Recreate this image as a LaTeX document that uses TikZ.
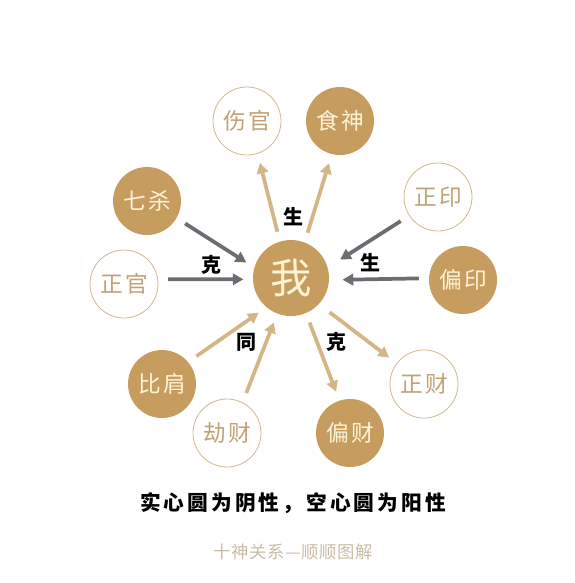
\documentclass[tikz,border=0pt]{standalone}
\usepackage{fontspec}
\setmainfont{Noto Sans CJK SC}
\usepackage{tikz}
\usetikzlibrary{arrows.meta}
\definecolor{sgold}{RGB}{198,157,95}
\definecolor{sgoldline}{RGB}{208,184,140}
\definecolor{sgoldarrow}{RGB}{212,182,134}
\definecolor{sgray}{RGB}{108,108,114}
\definecolor{scream}{RGB}{255,243,214}
\definecolor{stan}{RGB}{192,162,116}
\definecolor{sfoot}{RGB}{202,188,164}

\begin{document}
\begin{tikzpicture}[x=0.75pt, y=-0.75pt,
  every node/.style={font=\fontsize{17}{17}\selectfont\addfontfeature{LetterSpace=10}},
  yin/.style={circle, fill=sgold, text=scream, minimum size=51pt, inner sep=0pt},
  yang/.style={circle, draw=sgoldline, line width=0.6pt, fill=white, text=stan,
               minimum size=51pt, inner sep=0pt},
  garrow/.style={-{Triangle[length=8pt,width=8.5pt]}, line width=2.8pt, sgoldarrow,
                 shorten <=7.5pt, shorten >=7pt},
  karrow/.style={garrow, sgray},
  rel/.style={font=\bfseries\fontsize{15}{15}\selectfont, text=black}]
  \useasboundingbox (0,0) rectangle (575,583);

  % Centre: me
  \node[yin, minimum size=57pt, font=\fontsize{31}{31}\selectfont] (wo) at (291,278) {我};

  % Output: 生 (top)
  \node[yang] (shangguan) at (247,121) {伤官};
  \node[yin] (shishen) at (340,121) {食神};
  % Officers: 克 me (left)
  \node[yin] (qisha) at (147,201) {七杀};
  \node[yang] (zhengguan) at (124,284) {正官};
  % Resources: 生 me (right)
  \node[yang] (zhengyin) at (438,197) {正印};
  \node[yin] (pianyin) at (463,280) {偏印};
  % Peers: 同 (lower left)
  \node[yin] (bijian) at (162,384) {比肩};
  \node[yang] (jiecai) at (227,433) {劫财};
  % Wealth: I 克 (lower right)
  \node[yin] (piancai) at (350,433) {偏财};
  \node[yang] (zhengcai) at (424,384) {正财};

  % Arrows out of me
  \draw[garrow] (wo.107) -- (shangguan.-72);
  \draw[garrow] (wo.69) -- (shishen.-104);
  \draw[garrow] (wo.-67) -- (piancai.108);
  \draw[garrow, shorten <=10pt] (wo.-43) -- (zhengcai.143);
  % Arrows into me
  \draw[karrow] (qisha.-30) -- (wo.164);
  \draw[karrow] (zhengguan.8) -- (wo.182);
  \draw[karrow, shorten >=11pt] (zhengyin.-147) -- (wo.16);
  \draw[karrow, shorten >=10pt] (pianyin.177) -- (wo.-3);
  \draw[garrow] (bijian.40) -- (wo.-130);
  \draw[garrow] (jiecai.63) -- (wo.-111);

  % Relation labels
  \node[rel] (lsheng) at (293,217) {生};
  \node[rel] (lke) at (211,265) {克};
  \node[rel] (lshengr) at (370,263) {生};
  \node[rel] (ltong) at (246,342) {同};
  \node[rel] (lker) at (336,342) {克};

  % Legend and footer
  \node[font=\bfseries\fontsize{15.5}{15.5}\selectfont\addfontfeature{LetterSpace=15}] (legend)
    at (293,503) {实心圆为阴性，空心圆为阳性};
  \node[font=\fontsize{13}{13}\selectfont\addfontfeature{LetterSpace=4}, text=sfoot] (footer)
    at (293,552) {十神关系—顺顺图解};
\end{tikzpicture}
\end{document}
